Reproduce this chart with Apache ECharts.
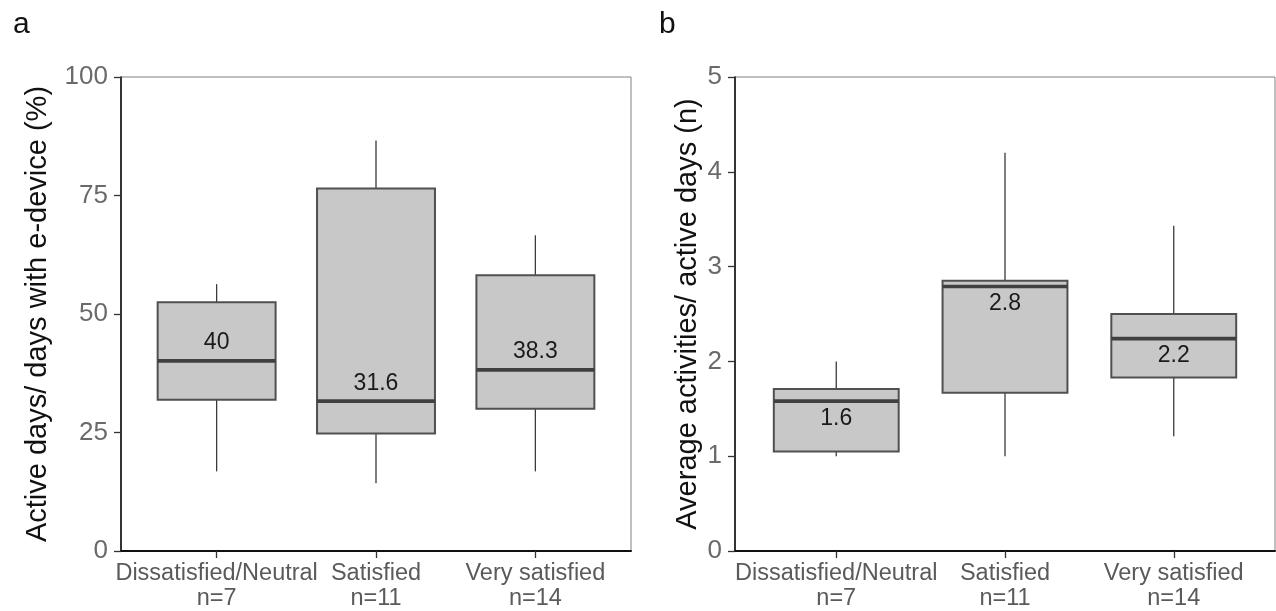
<!DOCTYPE html>
<html>
<head>
<meta charset="utf-8">
<script src="https://cdn.jsdelivr.net/npm/echarts@6/dist/echarts.min.js"></script>
<style>
  html, body { margin: 0; padding: 0; background: #fff; }
  #main { width: 1276px; height: 611px; }
</style>
</head>
<body>
<div id="main"></div>
<script>
var categories = ["Dissatisfied/Neutral\nn=7", "Satisfied\nn=11", "Very satisfied\nn=14"];
var catPositions = [0, 1, 2];

// [whisker low, q1, median, q3, whisker high]
var boxesA = [
  [16.8, 31.9, 40.1, 52.5, 56.3],
  [14.3, 24.8, 31.6, 76.5, 86.6],
  [16.8, 30.0, 38.2, 58.2, 66.6]
];
var medianLabelsA = ["40", "31.6", "38.3"];

var boxesB = [
  [1.0, 1.05, 1.58, 1.71, 2.0],
  [1.0, 1.67, 2.79, 2.85, 4.2],
  [1.21, 1.83, 2.24, 2.5, 3.43]
];
var medianLabelsB = ["1.6", "2.8", "2.2"];

var FONT = "Liberation Sans, Arial, sans-serif";

function toData(boxes) {
  return boxes.map(function (b, i) {
    return [catPositions[i]].concat(b);
  });
}

// ggplot-like box: vertical whiskers without caps, thick median bar, label near the median
function makeRender(labels, labelOffset) {
  return function (params, api) {
    var idx = api.value(0);
    var low = api.coord([idx, api.value(1)]);
    var q1 = api.coord([idx, api.value(2)]);
    var med = api.coord([idx, api.value(3)]);
    var q3 = api.coord([idx, api.value(4)]);
    var high = api.coord([idx, api.value(5)]);
    var w = api.size([1, 0])[0] * 0.74;
    var x0 = med[0] - w / 2;
    var lineStyle = { stroke: "#3a3a3a", lineWidth: 1.3 };
    return {
      type: "group",
      children: [
        {
          type: "line",
          shape: { x1: med[0], y1: high[1], x2: med[0], y2: q3[1] },
          style: lineStyle
        },
        {
          type: "line",
          shape: { x1: med[0], y1: q1[1], x2: med[0], y2: low[1] },
          style: lineStyle
        },
        {
          type: "rect",
          shape: { x: x0, y: q3[1], width: w, height: q1[1] - q3[1] },
          style: { fill: "#c8c8c8", stroke: "#505050", lineWidth: 2 }
        },
        {
          type: "line",
          shape: { x1: x0, y1: med[1], x2: x0 + w, y2: med[1] },
          style: { stroke: "#404040", lineWidth: 3.7 }
        },
        {
          type: "text",
          style: {
            text: labels[params.dataIndex],
            x: med[0],
            y: med[1] + labelOffset,
            align: "center",
            verticalAlign: "middle",
            textAlign: "center",
            textVerticalAlign: "middle",
            fill: "#1a1a1a",
            font: "23px " + FONT
          }
        }
      ]
    };
  };
}

function xAxisFor(gridIndex) {
  return {
    type: "value",
    gridIndex: gridIndex,
    min: -0.6,
    max: 2.6,
    axisLine: { show: true, onZero: false, lineStyle: { color: "#111", width: 2 } },
    axisTick: {
      show: true,
      customValues: catPositions,
      length: 7,
      lineStyle: { color: "#333", width: 1.3 }
    },
    axisLabel: {
      customValues: catPositions,
      formatter: function (v) {
        return categories[Math.round(v)];
      },
      color: "#5a5a5a",
      fontSize: 23.5,
      fontFamily: FONT,
      lineHeight: 25,
      margin: 10
    },
    splitLine: { show: false }
  };
}

function yAxisFor(gridIndex, max, interval, name, gap) {
  return {
    type: "value",
    gridIndex: gridIndex,
    min: 0,
    max: max,
    interval: interval,
    name: name,
    nameLocation: "middle",
    nameGap: gap,
    nameTextStyle: { color: "#111", fontSize: 29, fontFamily: FONT },
    axisLine: { show: true, onZero: false, lineStyle: { color: "#111", width: 1.6 } },
    axisTick: { show: true, length: 7, lineStyle: { color: "#333", width: 1.3 } },
    axisLabel: { color: "#6a6a6a", fontSize: 26, fontFamily: FONT, margin: 13 },
    splitLine: { show: false }
  };
}

var myChart = echarts.init(document.getElementById("main"));
var option = {
  backgroundColor: "#fff",
  animation: false,
  title: [
    { text: "a", left: 8, top: 5, textStyle: { fontSize: 30, fontWeight: "normal", color: "#111", fontFamily: FONT } },
    { text: "b", left: 654, top: 5, textStyle: { fontSize: 30, fontWeight: "normal", color: "#111", fontFamily: FONT } }
  ],
  grid: [
    { left: 121, right: 645, top: 77, bottom: 58, show: true, borderColor: "#808080", borderWidth: 1 },
    { left: 735, right: 1, top: 77, bottom: 58, show: true, borderColor: "#808080", borderWidth: 1 }
  ],
  xAxis: [xAxisFor(0), xAxisFor(1)],
  yAxis: [
    yAxisFor(0, 100, 25, "Active days/ days with e-device (%)", 69),
    yAxisFor(1, 5, 1, "Average activities/ active days (n)", 33)
  ],
  series: [
    {
      type: "custom",
      xAxisIndex: 0,
      yAxisIndex: 0,
      renderItem: makeRender(medianLabelsA, -18),
      encode: { x: 0, y: [1, 2, 3, 4, 5] },
      data: toData(boxesA)
    },
    {
      type: "custom",
      xAxisIndex: 1,
      yAxisIndex: 1,
      renderItem: makeRender(medianLabelsB, 17),
      encode: { x: 0, y: [1, 2, 3, 4, 5] },
      data: toData(boxesB)
    }
  ]
};
myChart.setOption(option);
window.addEventListener("resize", function () {
  myChart.resize();
});
</script>
</body>
</html>
